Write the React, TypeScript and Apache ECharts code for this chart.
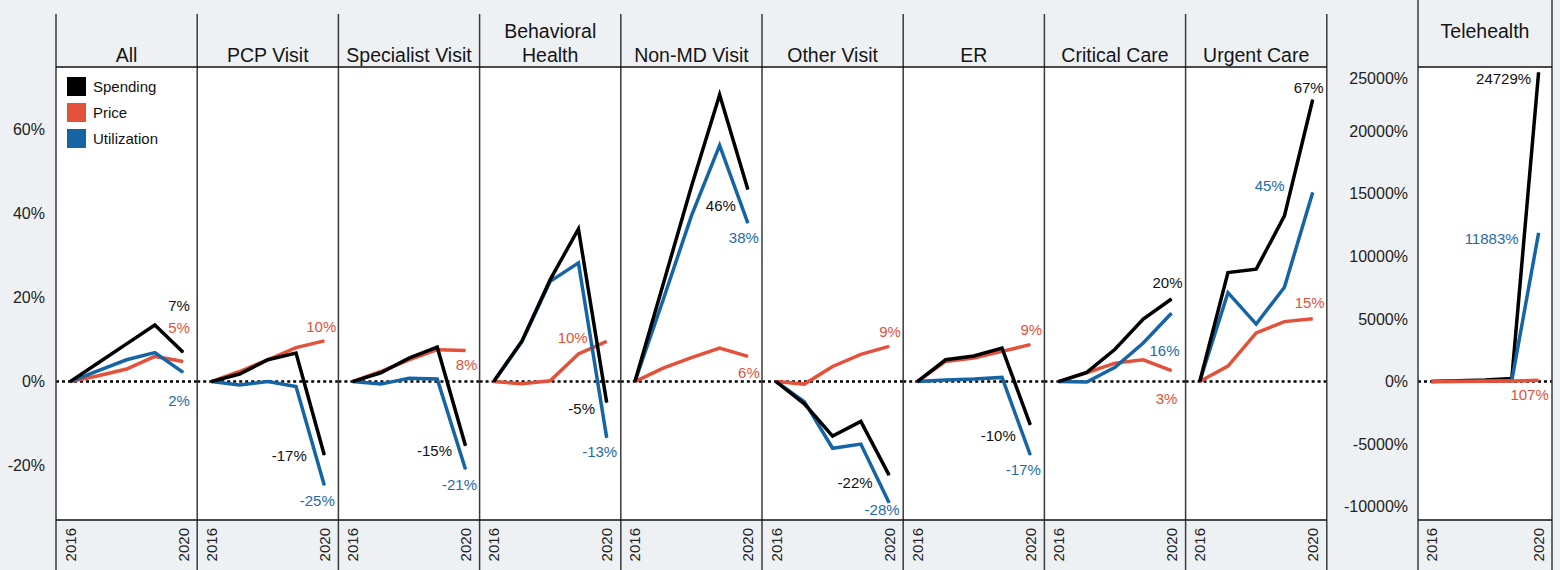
import React, { useEffect, useRef } from 'react';
import * as echarts from 'echarts';

// ---------- data ----------
const years = ['2016', '2017', '2018', '2019', '2020'];
const panelTitles = ['All', 'PCP Visit', 'Specialist Visit', 'Behavioral\nHealth', 'Non-MD Visit', 'Other Visit', 'ER', 'Critical Care', 'Urgent Care'];
const teleTitle = 'Telehealth';
const seriesNames = ['Spending', 'Price', 'Utilization'];

const spending = [
  [0, 4.5, 9.0, 13.5, 7.0],
  [0, 1.8, 5.2, 6.8, -17.5],
  [0, 2.1, 5.6, 8.2, -15.3],
  [0, 9.7, 24.3, 36.4, -5.0],
  [0, 23.2, 46.5, 68.4, 45.8],
  [0, -5.3, -13.0, -9.5, -22.3],
  [0, 5.2, 6.1, 8.0, -10.3],
  [0, 2.2, 7.7, 14.9, 19.7],
  [0, 26.0, 26.8, 39.5, 67.2],
];
const price = [
  [0, 1.4, 3.0, 6.0, 4.8],
  [0, 2.4, 5.2, 8.1, 9.7],
  [0, 2.4, 5.2, 7.6, 7.4],
  [0, -0.5, 0.2, 6.6, 9.6],
  [0, 3.2, 5.7, 8.0, 6.0],
  [0, -0.6, 3.6, 6.5, 8.4],
  [0, 4.8, 5.6, 7.2, 8.8],
  [0, 2.1, 4.4, 5.2, 2.6],
  [0, 3.7, 11.6, 14.3, 15.0],
];
const utilization = [
  [0, 2.6, 5.2, 6.9, 2.2],
  [0, -0.8, 0, -1.2, -24.7],
  [0, -0.6, 0.8, 0.6, -20.9],
  [0, 9.5, 23.9, 28.3, -13.4],
  [0, 19.5, 39.5, 56.3, 37.8],
  [0, -4.8, -15.9, -14.9, -28.9],
  [0, 0.4, 0.6, 1.0, -17.5],
  [0, -0.1, 3.4, 9.2, 16.3],
  [0, 21.2, 13.7, 22.5, 45.1],
];
const teleSpending = [0, 60, 130, 250, 24729];
const telePrice = [0, 10, 25, 45, 107];
const teleUtilization = [0, 20, 50, 90, 11883];

const spendingLabels = ['7%', '-17%', '-15%', '-5%', '46%', '-22%', '-10%', '20%', '67%'];
const priceLabels = ['5%', '10%', '8%', '10%', '6%', '9%', '9%', '3%', '15%'];
const utilizationLabels = ['2%', '-25%', '-21%', '-13%', '38%', '-28%', '-17%', '16%', '45%'];
const teleLabels = ['24729%', '107%', '11883%'];

const sharedTicks = [-20, 0, 20, 40, 60];
const teleTicks = [-10000, -5000, 0, 5000, 10000, 15000, 20000, 25000];

// ---------- style / layout ----------
const FONT = "'Liberation Sans', Arial, Helvetica, sans-serif";
const COLORS = { Spending: '#000000', Price: '#e4513a', Utilization: '#1565a5' };
const LABEL_COLORS = { Spending: '#111111', Price: '#e4513a', Utilization: '#1f6aab' };
const BG = '#eef1f4';
const PANEL_LEFT = 56;
const PANEL_W = 141.2;
const TOP = 67;
const BOTTOM = 520;
const HEADER_TOP = 14;
const TELE_LEFT = 1418;
const TELE_W = 134;
const SHARED_RANGE = [-33, 75];
const TELE_RANGE = [-11064, 25152];

// label offsets [dx, dy] from the final point, per panel: [spending, price, utilization]
const labelOffsets = [
  [[-4, -47], [-4, -34], [-4, 28]],
  [[-35, 1], [-3, -14], [-7, 15]],
  [[-31, 5], [1, 14], [-6, 15]],
  [[-25, 6], [-34, -4], [-7, 14]],
  [[-27, 16], [1, 16], [-4, 14]],
  [[-34, 7], [1, -15], [-7, 7]],
  [[-32, 11], [1, -15], [-7, 15]],
  [[-4, -16], [-5, 28], [-7, 37]],
  [[-4, -12], [-3, -16], [-43, -7]],
];
const teleOffsets = [[-35, 6], [-9, 14], [-47, 6]];

function makeLine(name: string, values: number[], idx: number, text: string, offset: number[], z: number, withZero: boolean) {
  const color = (COLORS as any)[name];
  const s: any = {
    type: 'line',
    name,
    xAxisIndex: idx,
    yAxisIndex: idx,
    data: values.map((v, i) =>
      i === values.length - 1
        ? {
            value: v,
            label: {
              show: true,
              formatter: text,
              position: 'inside',
              offset,
              color: (LABEL_COLORS as any)[name],
              fontSize: 15,
              fontFamily: FONT,
            },
          }
        : v
    ),
    symbol: 'circle',
    symbolSize: 1,
    showSymbol: true,
    showAllSymbol: true,
    itemStyle: { color },
    lineStyle: { color, width: 3.5, join: 'miter' },
    label: { show: false },
    silent: true,
    z,
    emphasis: { disabled: true },
  };
  if (withZero) {
    s.markLine = {
      silent: true,
      symbol: 'none',
      label: { show: false },
      lineStyle: { color: '#000', width: 2.5, type: [3, 3] },
      data: [{ yAxis: 0 }],
      z: 1,
    };
  }
  return s;
}

export default function App() {
  const ref = useRef<HTMLDivElement>(null);

  useEffect(() => {
    if (!ref.current) return;
    const chart = echarts.init(ref.current, undefined, { renderer: 'svg' });

    const grids: any[] = [];
    const xAxes: any[] = [];
    const yAxes: any[] = [];
    const series: any[] = [];

    const xAxisBase = (i: number) => ({
      type: 'category',
      gridIndex: i,
      data: years,
      boundaryGap: true,
      axisLine: { show: false },
      axisTick: { show: false },
      splitLine: { show: false },
      axisLabel: {
        interval: (idx: number) => idx === 0 || idx === years.length - 1,
        rotate: 90,
        margin: 8,
        fontSize: 15,
        color: '#222',
        fontFamily: FONT,
      },
    });

    for (let i = 0; i < panelTitles.length; i++) {
      grids.push({
        left: PANEL_LEFT + i * PANEL_W,
        top: TOP,
        width: PANEL_W,
        height: BOTTOM - TOP,
        show: true,
        backgroundColor: '#ffffff',
        borderWidth: 0,
        containLabel: false,
      });
      xAxes.push(xAxisBase(i));
      yAxes.push({
        type: 'value',
        gridIndex: i,
        min: SHARED_RANGE[0],
        max: SHARED_RANGE[1],
        show: i === 0,
        axisLine: { show: false },
        axisTick: { show: false },
        splitLine: { show: false },
        axisLabel: {
          show: i === 0,
          customValues: sharedTicks,
          formatter: (v: number) => v + '%',
          margin: 11,
          fontSize: 16,
          color: '#222',
          fontFamily: FONT,
        },
      });
      series.push(makeLine('Price', price[i], i, priceLabels[i], labelOffsets[i][1], 3, true));
      series.push(makeLine('Utilization', utilization[i], i, utilizationLabels[i], labelOffsets[i][2], 4, false));
      series.push(makeLine('Spending', spending[i], i, spendingLabels[i], labelOffsets[i][0], 5, false));
    }

    const ti = panelTitles.length;
    grids.push({
      left: TELE_LEFT,
      top: TOP,
      width: TELE_W,
      height: BOTTOM - TOP,
      show: true,
      backgroundColor: '#ffffff',
      borderWidth: 0,
    });
    xAxes.push(xAxisBase(ti));
    yAxes.push({
      type: 'value',
      gridIndex: ti,
      min: TELE_RANGE[0],
      max: TELE_RANGE[1],
      axisLine: { show: false },
      axisTick: { show: false },
      splitLine: { show: false },
      axisLabel: {
        customValues: teleTicks,
        formatter: (v: number) => (v === teleTicks[teleTicks.length - 1] ? '{s|' + v + '%}' : v + '%'),
        rich: { s: { fontSize: 16, color: '#222', fontFamily: FONT, padding: [20, 0, 0, 0] } },
        margin: 10,
        fontSize: 16,
        color: '#222',
        fontFamily: FONT,
      },
    });
    series.push(makeLine('Price', telePrice, ti, teleLabels[1], teleOffsets[1], 5, true));
    series.push(makeLine('Utilization', teleUtilization, ti, teleLabels[2], teleOffsets[2], 4, false));
    series.push(makeLine('Spending', teleSpending, ti, teleLabels[0], teleOffsets[0], 3, false));

    // frame lines and headers
    const elements: any[] = [];
    const right = PANEL_LEFT + panelTitles.length * PANEL_W;
    for (let i = 0; i <= panelTitles.length; i++) {
      const x = PANEL_LEFT + i * PANEL_W;
      elements.push({ type: 'line', z: 100, shape: { x1: x, y1: HEADER_TOP, x2: x, y2: 570 }, style: { stroke: '#3a3a3a', lineWidth: 1.5 } });
    }
    [TELE_LEFT, TELE_LEFT + TELE_W].forEach((x) =>
      elements.push({ type: 'line', z: 100, shape: { x1: x, y1: 0, x2: x, y2: 570 }, style: { stroke: '#3a3a3a', lineWidth: 1.5 } })
    );
    [TOP, BOTTOM].forEach((y) => {
      elements.push({ type: 'line', z: 100, shape: { x1: PANEL_LEFT, y1: y, x2: right, y2: y }, style: { stroke: '#111', lineWidth: 1.5 } });
      elements.push({ type: 'line', z: 100, shape: { x1: TELE_LEFT, y1: y, x2: TELE_LEFT + TELE_W, y2: y }, style: { stroke: '#111', lineWidth: 1.5 } });
    });
    panelTitles.forEach((t, i) => {
      const lines = t.split('\n');
      const cx = PANEL_LEFT + i * PANEL_W + PANEL_W / 2;
      lines.forEach((ln, k) => {
        elements.push({
          type: 'text',
          z: 100,
          x: cx,
          y: 55 - (lines.length - 1 - k) * 24,
          style: { text: ln, align: 'center', verticalAlign: 'middle', fontSize: 19.5, fill: '#151515', fontFamily: FONT },
        });
      });
    });
    elements.push({
      type: 'text',
      z: 100,
      x: TELE_LEFT + TELE_W / 2,
      y: 31,
      style: { text: teleTitle, align: 'center', verticalAlign: 'middle', fontSize: 19.5, fill: '#151515', fontFamily: FONT },
    });

    chart.setOption({
      animation: false,
      backgroundColor: BG,
      textStyle: { fontFamily: FONT },
      legend: {
        data: seriesNames,
        orient: 'vertical',
        left: 67,
        top: 77,
        padding: 0,
        itemWidth: 19,
        itemHeight: 19,
        itemGap: 7,
        icon: 'rect',
        selectedMode: false,
        textStyle: { fontSize: 15, color: '#111', fontFamily: FONT, padding: [0, 0, 0, 2] },
      },
      grid: grids,
      xAxis: xAxes,
      yAxis: yAxes,
      series,
      graphic: { elements },
    });

    return () => chart.dispose();
  }, []);

  return <div ref={ref} style={{ position: 'absolute', left: 0, top: 0, width: 1560, height: 570 }} />;
}
